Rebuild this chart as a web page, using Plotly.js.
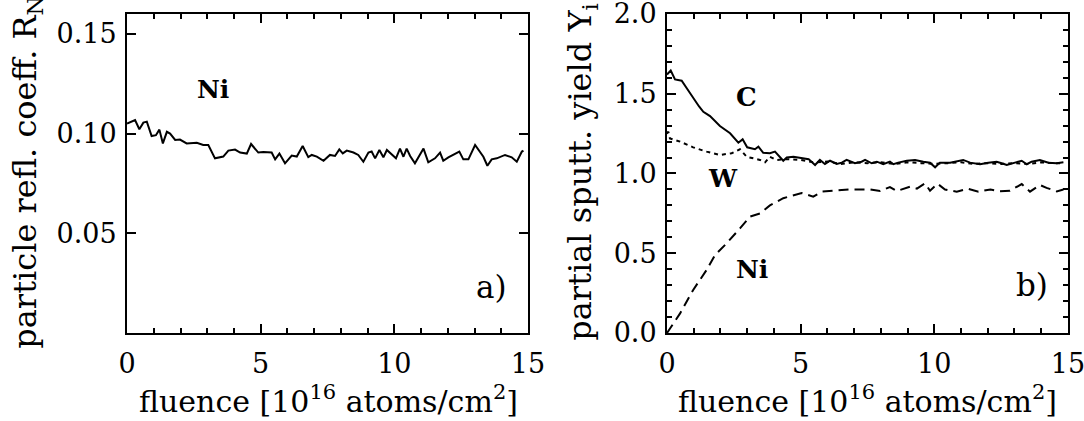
<!DOCTYPE html>
<html>
<head>
<meta charset="utf-8">
<script src="https://cdn.plot.ly/plotly-3.0.1.min.js"></script>
<style>html,body{margin:0;padding:0;background:#fff;}#chart{width:1084px;height:421px;}</style>
</head>
<body>
<div id="chart"></div>
<script>
// ---- Panel a): particle reflection coefficient of Ni ----
var reflFluence = [0.00,0.30,0.46,0.61,0.74,0.92,1.08,1.21,1.34,1.49,1.61,1.80,1.98,2.23,2.61,2.85,3.04,3.29,3.60,3.79,4.04,4.23,4.48,4.64,4.91,5.10,5.41,5.54,5.70,5.91,6.16,6.35,6.57,6.78,6.91,7.10,7.35,7.59,7.78,7.94,8.07,8.22,8.47,8.65,8.84,9.03,9.15,9.28,9.44,9.59,9.72,9.90,10.06,10.21,10.34,10.46,10.59,10.77,10.96,11.09,11.27,11.52,11.71,11.83,12.02,12.21,12.43,12.58,12.77,13.02,13.21,13.33,13.48,13.64,13.83,14.14,14.39,14.58,14.77,14.83];
var reflNi = [0.1050,0.1068,0.1022,0.1055,0.1060,0.0988,0.0992,0.1020,0.0951,0.1009,0.1000,0.0968,0.0970,0.0951,0.0954,0.0943,0.0943,0.0876,0.0885,0.0915,0.0920,0.0905,0.0900,0.0948,0.0905,0.0908,0.0905,0.0871,0.0900,0.0851,0.0890,0.0885,0.0938,0.0882,0.0893,0.0885,0.0864,0.0893,0.0888,0.0921,0.0901,0.0915,0.0905,0.0893,0.0859,0.0905,0.0910,0.0876,0.0918,0.0881,0.0918,0.0898,0.0876,0.0925,0.0884,0.0925,0.0888,0.0851,0.0893,0.0925,0.0856,0.0876,0.0905,0.0864,0.0881,0.0893,0.0910,0.0871,0.0871,0.0943,0.0905,0.0884,0.0839,0.0871,0.0876,0.0893,0.0881,0.0859,0.0910,0.0914];

// ---- Panel b): partial sputtering yields ----
var cFluence = [0.00,0.14,0.30,0.55,0.74,0.98,1.20,1.36,1.61,1.98,2.36,2.67,2.83,3.00,3.29,3.42,3.60,3.85,4.04,4.35,4.48,4.73,5.10,5.30,5.54,5.72,5.91,6.10,6.35,6.54,6.72,7.03,7.28,7.41,7.66,7.85,8.09,8.34,8.47,8.65,8.97,9.28,9.59,9.84,10.03,10.21,10.59,10.77,11.08,11.34,11.71,12.02,12.33,12.52,12.71,13.02,13.27,13.46,13.64,13.95,14.27,14.58,14.83];
var yieldC = [1.620,1.645,1.590,1.582,1.534,1.471,1.420,1.387,1.360,1.298,1.252,1.193,1.214,1.164,1.152,1.168,1.130,1.127,1.137,1.080,1.100,1.105,1.095,1.090,1.053,1.085,1.060,1.080,1.060,1.068,1.085,1.064,1.074,1.085,1.064,1.074,1.058,1.074,1.058,1.068,1.080,1.085,1.074,1.068,1.039,1.068,1.068,1.074,1.085,1.068,1.058,1.068,1.074,1.064,1.053,1.068,1.080,1.058,1.074,1.085,1.068,1.064,1.070];

var wFluence = [0.00,0.05,0.11,0.49,0.98,1.48,1.98,2.42,2.73,2.98,3.48,3.67,3.85,4.10,4.50,5.00,5.50,6.00,6.50,7.00,7.50,8.00,8.50,9.00,9.50,10.00,10.50,11.00,11.50,12.00,12.50,13.00,13.50,14.00,14.50,14.83];
var yieldW = [1.250,1.262,1.220,1.200,1.164,1.137,1.116,1.127,1.152,1.105,1.085,1.070,1.105,1.085,1.090,1.085,1.070,1.075,1.060,1.070,1.065,1.070,1.060,1.070,1.065,1.060,1.065,1.070,1.060,1.065,1.060,1.065,1.060,1.070,1.065,1.065];

var niFluence = [0.00,0.49,0.98,1.48,1.80,2.23,2.73,3.11,3.48,3.85,4.35,4.73,5.04,5.47,5.79,6.25,6.85,7.59,7.97,8.34,8.59,9.09,9.35,9.65,9.84,10.12,10.40,10.84,11.25,11.65,12.10,12.45,12.83,13.27,13.58,13.95,14.20,14.58,14.83];
var yieldNi = [0.000,0.123,0.270,0.395,0.490,0.562,0.656,0.730,0.750,0.800,0.845,0.865,0.878,0.855,0.886,0.892,0.900,0.900,0.890,0.915,0.890,0.917,0.905,0.938,0.892,0.936,0.900,0.886,0.905,0.886,0.900,0.888,0.892,0.934,0.886,0.928,0.910,0.888,0.900];

// ---- Tick labels ----
var xTickVals = [0, 5, 10, 15];
var xTickText = ["0", "5", "10", "15"];
var reflTickVals = [0.05, 0.10, 0.15];
var reflTickText = ["0.05", "0.10", "0.15"];
var yieldTickVals = [0, 0.5, 1.0, 1.5, 2.0];
var yieldTickText = ["0.0", "0.5", "1.0", "1.5", "2.0"];

var FONT = "DejaVu Serif, Liberation Serif, serif";

var traces = [
  {x: reflFluence, y: reflNi, xaxis: 'x', yaxis: 'y', mode: 'lines', name: 'R_N Ni',
   line: {color: '#000', width: 2}},
  {x: cFluence, y: yieldC, xaxis: 'x2', yaxis: 'y2', mode: 'lines', name: 'C',
   line: {color: '#000', width: 2}},
  {x: wFluence, y: yieldW, xaxis: 'x2', yaxis: 'y2', mode: 'lines', name: 'W',
   line: {color: '#000', width: 2, dash: '4px,4px'}},
  {x: niFluence, y: yieldNi, xaxis: 'x2', yaxis: 'y2', mode: 'lines', name: 'Ni',
   line: {color: '#000', width: 2, dash: '10px,6px'}}
];

function xAxis(domain, anchor) {
  return {
    domain: domain, anchor: anchor, range: [0, 15],
    tickmode: 'array', tickvals: xTickVals, ticktext: xTickText,
    ticks: 'inside', ticklen: 9, tickwidth: 2, tickcolor: '#000',
    minor: {tickmode: 'linear', tick0: 0, dtick: 1, ticks: 'inside', ticklen: 5, tickwidth: 2, tickcolor: '#000', showgrid: false},
    showline: true, linewidth: 2, linecolor: '#000', mirror: 'allticks',
    showgrid: false, zeroline: false,
    tickfont: {family: FONT, size: 27, color: '#000'},
    ticklabelstandoff: 6, ticklabeloverflow: 'allow'
  };
}

var ydom = [0.2090, 0.9668];

var layout = {
  width: 1084, height: 421,
  margin: {l: 0, r: 0, t: 0, b: 0},
  paper_bgcolor: '#fff', plot_bgcolor: '#fff',
  showlegend: false,
  font: {family: FONT, color: '#000'},
  xaxis: xAxis([0.1172, 0.4871], 'y'),
  xaxis2: xAxis([0.6153, 0.9852], 'y2'),
  yaxis: {
    domain: ydom, anchor: 'x', range: [0, 0.16],
    tickmode: 'array', tickvals: reflTickVals, ticktext: reflTickText,
    ticks: 'inside', ticklen: 9, tickwidth: 2, tickcolor: '#000',
    showline: true, linewidth: 2, linecolor: '#000', mirror: 'allticks',
    showgrid: false, zeroline: false,
    tickfont: {family: FONT, size: 27, color: '#000'},
    ticklabelstandoff: 3, ticklabeloverflow: 'allow'
  },
  yaxis2: {
    domain: ydom, anchor: 'x2', range: [0, 2.0],
    tickmode: 'array', tickvals: yieldTickVals, ticktext: yieldTickText,
    ticks: 'inside', ticklen: 9, tickwidth: 2, tickcolor: '#000',
    minor: {tickmode: 'linear', tick0: 0, dtick: 0.1, ticks: 'inside', ticklen: 5, tickwidth: 2, tickcolor: '#000', showgrid: false},
    showline: true, linewidth: 2, linecolor: '#000', mirror: 'allticks',
    showgrid: false, zeroline: false,
    tickfont: {family: FONT, size: 27, color: '#000'},
    ticklabelstandoff: 3, ticklabeloverflow: 'allow'
  },
  annotations: [
    // axis titles
    {text: 'fluence [10<sup>16</sup> atoms/cm<sup>2</sup>]', xref: 'paper', yref: 'paper',
     x: 0.3030, y: 0.050, xanchor: 'center', yanchor: 'middle', showarrow: false,
     font: {family: FONT, size: 30, color: '#000'}},
    {text: 'fluence [10<sup>16</sup> atoms/cm<sup>2</sup>]', xref: 'paper', yref: 'paper',
     x: 0.8000, y: 0.050, xanchor: 'center', yanchor: 'middle', showarrow: false,
     font: {family: FONT, size: 30, color: '#000'}},
    {text: 'particle refl. coeff. R<sub>N</sub>', xref: 'paper', yref: 'paper',
     x: 0.0250, y: 0.590, xanchor: 'center', yanchor: 'middle', showarrow: false, textangle: -90,
     font: {family: FONT, size: 32, color: '#000'}},
    {text: 'partial sputt. yield Y<sub>i</sub>', xref: 'paper', yref: 'paper',
     x: 0.5370, y: 0.590, xanchor: 'center', yanchor: 'middle', showarrow: false, textangle: -90,
     font: {family: FONT, size: 32, color: '#000'}},
    // in-plot labels
    {text: '<b>Ni</b>', xref: 'x', yref: 'y', x: 3.22, y: 0.122, showarrow: false,
     xanchor: 'center', yanchor: 'middle', font: {family: FONT, size: 25, color: '#000'}},
    {text: 'a)', xref: 'x', yref: 'y', x: 13.65, y: 0.023, showarrow: false,
     xanchor: 'center', yanchor: 'middle', font: {family: FONT, size: 31, color: '#000'}},
    {text: '<b>C</b>', xref: 'x2', yref: 'y2', x: 2.96, y: 1.48, showarrow: false,
     xanchor: 'center', yanchor: 'middle', font: {family: FONT, size: 26, color: '#000'}},
    {text: '<b>W</b>', xref: 'x2', yref: 'y2', x: 2.09, y: 0.97, showarrow: false,
     xanchor: 'center', yanchor: 'middle', font: {family: FONT, size: 25, color: '#000'}},
    {text: '<b>Ni</b>', xref: 'x2', yref: 'y2', x: 3.18, y: 0.395, showarrow: false,
     xanchor: 'center', yanchor: 'middle', font: {family: FONT, size: 25, color: '#000'}},
    {text: 'b)', xref: 'x2', yref: 'y2', x: 13.65, y: 0.30, showarrow: false,
     xanchor: 'center', yanchor: 'middle', font: {family: FONT, size: 31, color: '#000'}}
  ]
};

Plotly.newPlot('chart', traces, layout, {staticPlot: true, displayModeBar: false});
</script>
</body>
</html>
